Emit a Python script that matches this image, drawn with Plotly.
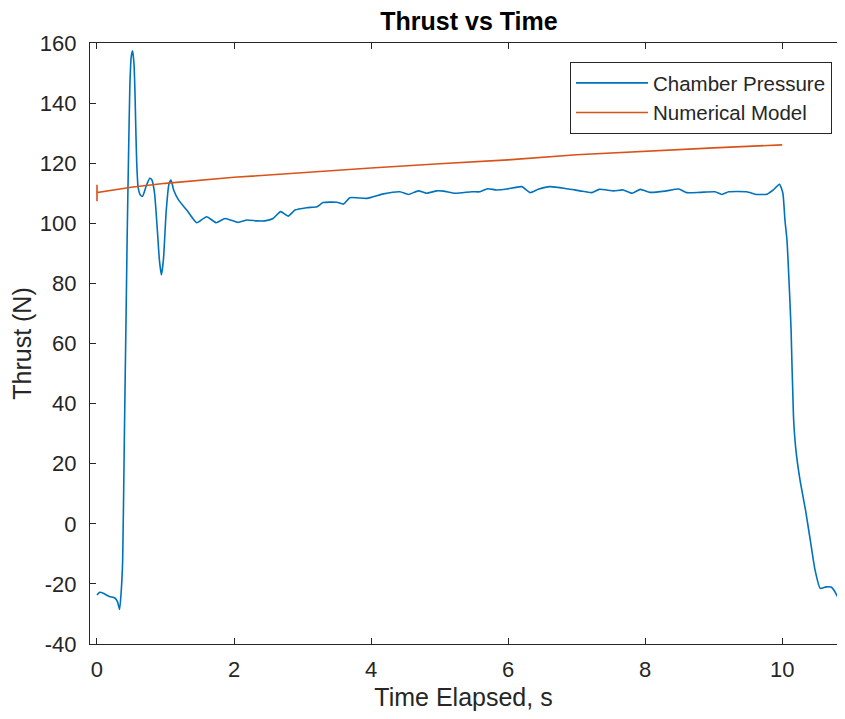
import plotly.graph_objects as go

# Chamber Pressure (blue) series
time_cp = [0.0, 0.04, 0.10, 0.18, 0.26, 0.30, 0.33, 0.355, 0.375, 0.40, 0.425, 0.44, 0.46,
           0.48, 0.50, 0.52, 0.54, 0.555, 0.565, 0.58, 0.60, 0.63, 0.665, 0.72, 0.77, 0.80,
           0.84, 0.88, 0.91, 0.94, 0.97, 1.01, 1.05, 1.08, 1.12, 1.19, 1.31, 1.455, 1.60,
           1.74, 1.87, 2.06, 2.19, 2.33, 2.45, 2.57, 2.68, 2.79, 2.89, 3.06, 3.21, 3.30,
           3.50, 3.60, 3.69, 3.94, 4.18, 4.42, 4.545, 4.69, 4.81, 4.96, 5.06, 5.23, 5.47,
           5.59, 5.70, 5.83, 5.98, 6.20, 6.32, 6.44, 6.61, 6.86, 7.05, 7.22, 7.33, 7.54,
           7.68, 7.81, 7.93, 8.07, 8.29, 8.49, 8.61, 8.80, 9.02, 9.12, 9.22, 9.48, 9.63,
           9.78, 9.87, 9.96, 10.01, 10.04, 10.07, 10.11, 10.13, 10.165, 10.20, 10.26,
           10.34, 10.41, 10.48, 10.555, 10.64, 10.72, 10.77, 10.85, 10.92]
thrust_cp = [-23.7, -22.8, -23.2, -24.2, -24.7, -26.0, -28.5, -22.0, -12.0, 30.0, 70.0,
             95.0, 122.0, 146.0, 155.5, 157.4, 153.0, 143.0, 133.0, 120.0, 112.0, 109.5,
             109.0, 112.5, 115.0, 114.5, 110.0, 98.0, 88.0, 82.8, 88.0, 104.0, 113.0, 114.4,
             111.0, 107.8, 104.4, 100.2, 102.2, 100.2, 101.6, 100.3, 101.1, 100.8, 100.8,
             101.6, 103.9, 102.4, 104.4, 105.2, 105.5, 106.9, 107.0, 106.4, 108.5, 108.3,
             109.8, 110.5, 109.6, 110.8, 110.0, 110.8, 110.7, 110.0, 110.5, 110.5, 111.5,
             111.1, 111.4, 112.2, 110.2, 111.3, 112.2, 111.5, 110.8, 110.2, 111.3, 110.8,
             111.1, 110.0, 111.3, 110.3, 110.7, 111.4, 110.2, 110.3, 110.5, 109.6, 110.5,
             110.5, 109.6, 109.7, 111.1, 113.0, 110.0, 101.1, 94.4, 75.6, 64.5, 35.6, 24.6,
             14.6, 4.6, -5.4, -15.4, -21.5, -21.0, -21.1, -22.6, -25.9, -24.8]

# Numerical Model (orange) series
time_nm = [0.0, 0.0, 0.0, 0.5, 1.0, 2.0, 3.0, 4.0, 5.0, 6.0, 7.0, 8.0, 9.0, 10.0]
thrust_nm = [107.3, 112.8, 110.2, 112.0, 113.3, 115.3, 116.9, 118.4, 119.8, 121.1,
             122.8, 124.0, 125.1, 126.1]

x_ticks = [0, 2, 4, 6, 8, 10]
y_ticks = [-40, -20, 0, 20, 40, 60, 80, 100, 120, 140, 160]
y_tick_text = ["-40", "-20", "0", "20", "40", "60", "80", "100", "120", "140", "160"]

AX = "#262626"
FONT = "Liberation Sans, Arial, sans-serif"

fig = go.Figure()
fig.add_trace(go.Scatter(x=time_cp, y=thrust_cp, mode="lines", name="Chamber Pressure",
                         line=dict(color="#0072BD", width=1.6, shape="spline", smoothing=0.5)))
fig.add_trace(go.Scatter(x=time_nm, y=thrust_nm, mode="lines", name="Numerical Model",
                         line=dict(color="#D95319", width=1.6)))

# page body adds an 8px offset, so the figure is sized to fit without scrollbars
W, H = 829, 703
PW = W - 82
fig.update_layout(
    width=W, height=H,
    margin=dict(l=82, r=0, t=35, b=67, autoexpand=False),
    paper_bgcolor="white", plot_bgcolor="white",
    font=dict(family=FONT, color=AX),
    title=dict(text="<b>Thrust vs Time</b>", x=(469 - 90) / PW, xref="paper",
               xanchor="center", y=1 - 13 / H, yanchor="middle",
               font=dict(size=25, color="black")),
    showlegend=True,
    legend=dict(x=(824 - 82) / PW, y=1 - (54 - 35) / 601, xanchor="right", yanchor="top",
                bgcolor="white", bordercolor=AX, borderwidth=1, itemwidth=72,
                font=dict(size=20.5, color=AX), tracegroupgap=0),
)
fig.update_xaxes(range=[-0.102, 10.80], tickvals=x_ticks, ticks="inside", ticklen=6,
                 tickcolor=AX, showline=True, linecolor=AX, linewidth=1.2, mirror="ticks",
                 showgrid=False, zeroline=False, tickfont=dict(size=22, color=AX),
                 ticklabelstandoff=5, automargin=False,
                 title=dict(text="Time Elapsed, s", font=dict(size=25, color=AX), standoff=10))
fig.update_yaxes(range=[-40, 160], tickvals=y_ticks, ticktext=y_tick_text, ticks="inside",
                 ticklen=6, tickcolor=AX, showline=True, linecolor=AX, linewidth=1.2,
                 mirror=False, showgrid=False, zeroline=False,
                 tickfont=dict(size=22, color=AX), ticklabelstandoff=8, automargin=False,
                 title=dict(text="Thrust (N)", font=dict(size=25, color=AX), standoff=6))

fig.write_html("out.html")
